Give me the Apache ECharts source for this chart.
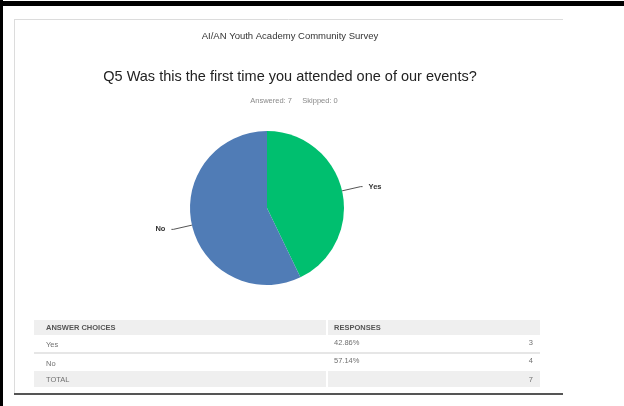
<!DOCTYPE html>
<html>
<head>
<meta charset="utf-8">
<script src="https://cdn.jsdelivr.net/npm/echarts@6/dist/echarts.min.js"></script>
<style>
  html, body { margin: 0; padding: 0; background: #fff; }
  #chart { width: 624px; height: 406px; }
</style>
</head>
<body>
<div id="chart"></div>
<script>
// Survey question and response counts
const surveyName = 'AI/AN Youth Academy Community Survey';
const questionText = 'Q5 Was this the first time you attended one of our events?';
const choices = ['Yes', 'No'];
const counts = [3, 4];
const answered = 7;
const skipped = 0;
const sliceColors = ['#00bf6f', '#507cb6'];
const tableHeaders = ['ANSWER CHOICES', 'RESPONSES'];
const totalLabel = 'TOTAL';

const total = counts.reduce((a, b) => a + b, 0);
const pct = counts.map(c => (c / total * 100).toFixed(2) + '%');

const FONT = '"Liberation Sans", Arial, sans-serif';

// Table layout
const tLeft = 34, tRight = 540, colSplit = 327;
const rowTops = [320, 336, 354, 371];
const rowH = [15, 17, 16, 16];

const graphics = [];
// page frame
graphics.push({ type: 'rect', shape: { x: 0, y: 1, width: 624, height: 5 }, style: { fill: '#000' } });
graphics.push({ type: 'rect', shape: { x: 0, y: 0, width: 3, height: 406 }, style: { fill: '#000' } });
graphics.push({ type: 'line', shape: { x1: 14.5, y1: 19, x2: 14.5, y2: 394 }, style: { stroke: '#dcdcdc', lineWidth: 1 } });
graphics.push({ type: 'line', shape: { x1: 14, y1: 19.5, x2: 563, y2: 19.5 }, style: { stroke: '#dcdcdc', lineWidth: 1 } });
graphics.push({ type: 'rect', shape: { x: 14, y: 393, width: 549, height: 2 }, style: { fill: '#555' } });

// headings
graphics.push({ type: 'text', x: 290, y: 36, style: { text: surveyName, font: '9.5px ' + FONT, fill: '#333', align: 'center', verticalAlign: 'middle' } });
graphics.push({ type: 'text', x: 290, y: 77, style: { text: questionText, font: '14.5px ' + FONT, fill: '#222', align: 'center', verticalAlign: 'middle' } });
graphics.push({ type: 'text', x: 294, y: 101, style: { text: 'Answered: ' + answered + '     Skipped: ' + skipped, font: '7.5px ' + FONT, fill: '#8a8a8a', align: 'center', verticalAlign: 'middle' } });

// table shaded rows (header and total)
[0, 3].forEach(r => {
  graphics.push({ type: 'rect', shape: { x: tLeft, y: rowTops[r], width: colSplit - 1 - tLeft, height: rowH[r] }, style: { fill: '#efefef' } });
  graphics.push({ type: 'rect', shape: { x: colSplit + 1, y: rowTops[r], width: tRight - colSplit - 1, height: rowH[r] }, style: { fill: '#efefef' } });
});
// divider between answer rows
graphics.push({ type: 'rect', shape: { x: tLeft, y: 352, width: tRight - tLeft, height: 2 }, style: { fill: '#e6e6e6' } });

// header text
graphics.push({ type: 'text', x: 46, y: 327.5, style: { text: tableHeaders[0], font: 'bold 7.5px ' + FONT, fill: '#555', verticalAlign: 'middle' } });
graphics.push({ type: 'text', x: 334, y: 327.5, style: { text: tableHeaders[1], font: 'bold 7.5px ' + FONT, fill: '#555', verticalAlign: 'middle' } });

// answer rows
const choiceY = [345, 364];
const pctY = [343, 361];
const bodyFont = '7.5px ' + FONT;
choices.forEach((c, i) => {
  graphics.push({ type: 'text', x: 46, y: choiceY[i], style: { text: c, font: bodyFont, fill: '#707070', verticalAlign: 'middle' } });
  graphics.push({ type: 'text', x: 334, y: pctY[i], style: { text: pct[i], font: bodyFont, fill: '#707070', verticalAlign: 'middle' } });
  graphics.push({ type: 'text', x: 533, y: pctY[i], style: { text: String(counts[i]), font: bodyFont, fill: '#707070', align: 'right', verticalAlign: 'middle' } });
});
// total row
graphics.push({ type: 'text', x: 46, y: 379.5, style: { text: totalLabel, font: bodyFont, fill: '#707070', verticalAlign: 'middle' } });
graphics.push({ type: 'text', x: 533, y: 379.5, style: { text: String(total), font: bodyFont, fill: '#707070', align: 'right', verticalAlign: 'middle' } });

const chart = echarts.init(document.getElementById('chart'), null, { renderer: 'canvas' });
chart.setOption({
  animation: false,
  backgroundColor: '#fff',
  graphic: graphics,
  series: [{
    type: 'pie',
    center: [267, 208],
    radius: 77,
    startAngle: 90,
    clockwise: true,
    silent: true,
    data: choices.map((c, i) => ({ name: c, value: counts[i], itemStyle: { color: sliceColors[i] } })),
    itemStyle: { borderWidth: 0 },
    label: {
      show: true,
      formatter: '{b}',
      fontFamily: FONT,
      fontSize: 7.5,
      fontWeight: 'bold',
      color: '#333',
      distanceToLabelLine: 6
    },
    labelLine: {
      show: true,
      length: 19,
      length2: 2,
      lineStyle: { color: '#555', width: 1 }
    }
  }]
});
</script>
</body>
</html>
